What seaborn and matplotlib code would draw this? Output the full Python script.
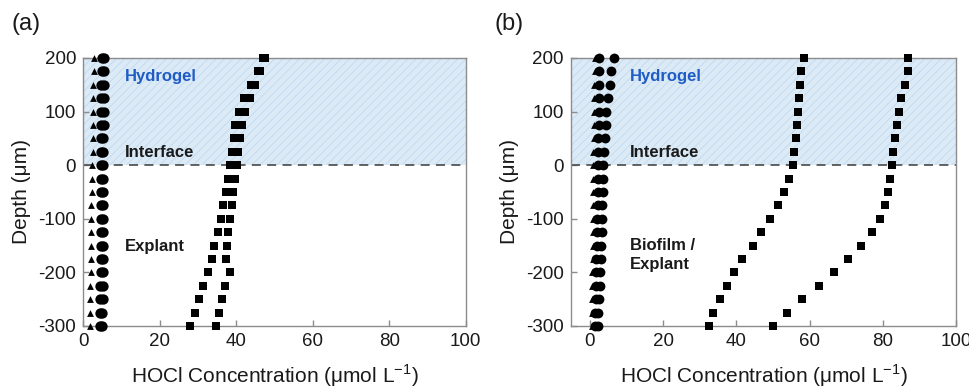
import numpy as np
import pandas as pd
import matplotlib
matplotlib.use("Agg")
import matplotlib.pyplot as plt
import seaborn as sns

# Depth profile (um), one reading every 25 um
depth = [200, 175, 150, 125, 100, 75, 50, 25, 0, -25, -50, -75, -100,
         -125, -150, -175, -200, -225, -250, -275, -300]

# Panel (a): hydrogel over explant
tri_a = [2.9, 2.8, 2.7, 2.7, 2.6, 2.6, 2.5, 2.5, 2.4, 2.3, 2.3, 2.2, 2.2,
         2.1, 2.1, 2.0, 2.0, 1.9, 1.9, 1.8, 1.7]
circ_a1 = [4.9, 4.9, 4.8, 4.8, 4.8, 4.8, 4.8, 4.7, 4.7, 4.7, 4.7, 4.7, 4.6,
           4.6, 4.6, 4.6, 4.6, 4.5, 4.5, 4.5, 4.5]
circ_a2 = [5.5, 5.5, 5.4, 5.4, 5.4, 5.4, 5.3, 5.3, 5.3, 5.3, 5.3, 5.2, 5.2,
           5.2, 5.2, 5.1, 5.1, 5.1, 5.1, 5.0, 5.0]
sq_a1 = [46.9, 45.6, 44.0, 42.1, 40.7, 39.8, 39.4, 38.8, 38.4, 38.0, 37.3,
         36.6, 36.0, 35.2, 34.3, 33.7, 32.6, 31.4, 30.4, 29.2, 28.0]
sq_a2 = [47.6, 46.2, 44.8, 43.5, 42.3, 41.5, 41.0, 40.5, 40.1, 39.8, 39.3,
         38.9, 38.5, 37.9, 37.7, 37.3, 38.3, 37.1, 36.2, 35.5, 34.8]

# Panel (b): hydrogel over biofilm / explant
tri_b = [1.3, 1.3, 1.2, 1.2, 1.1, 1.1, 1.1, 1.0, 1.0, 1.0, 0.9, 0.9, 0.9,
         0.8, 0.8, 0.8, 0.7, 0.7, 0.6, 0.6, 0.5]
circ_b1 = [2.6, 2.6, 2.5, 2.5, 2.4, 2.4, 2.3, 2.3, 2.2, 2.2, 2.1, 2.1, 2.0,
           2.0, 1.9, 1.8, 1.8, 1.7, 1.6, 1.5, 1.4]
circ_b2 = [6.6, 5.9, 5.5, 4.9, 4.5, 4.3, 4.1, 3.9, 3.7, 3.6, 3.5, 3.4, 3.3,
           3.2, 3.1, 3.0, 2.8, 2.7, 2.5, 2.3, 2.1]
sq_b1 = [58.4, 57.6, 57.4, 57.1, 56.9, 56.6, 56.3, 55.8, 55.3, 54.4, 53.1,
         51.2, 49.2, 46.8, 44.4, 41.6, 39.3, 37.3, 35.4, 33.7, 32.4]
sq_b2 = [86.9, 86.9, 86.0, 85.0, 84.3, 83.7, 83.2, 82.7, 82.3, 81.8, 81.3,
         80.5, 79.1, 76.9, 74.0, 70.5, 66.5, 62.4, 58.0, 53.8, 50.1]

x_ticks = [0, 20, 40, 60, 80, 100]
y_ticks = [-300, -200, -100, 0, 100, 200]

sns.set_theme(style="ticks")
plt.rcParams["font.family"] = ["Liberation Sans", "DejaVu Sans"]
plt.rcParams["hatch.linewidth"] = 0.5
plt.rcParams["axes.unicode_minus"] = False

spine_color = "#8c8c8c"
hydrogel_blue = "#1f5cc4"


def draw_panel(ax, series, xlim, label, label_x, region_text):
    # Hydrogel layer: shaded band with faint diagonal hatch
    ax.axhspan(0, 200, facecolor="#dceaf6", edgecolor="#b9d7f2",
               hatch="////", linewidth=0, zorder=0)
    ax.axhline(0, color="#555555", linestyle=(0, (5, 3.5)), linewidth=1.3,
               zorder=1)

    for values, marker, size in series:
        df = pd.DataFrame({"conc": values, "depth": depth})
        sns.scatterplot(data=df, x="conc", y="depth", marker=marker, s=size,
                        color="black", linewidth=0, ax=ax, zorder=3,
                        clip_on=False)

    ax.set_xlim(*xlim)
    ax.set_ylim(-300, 200)
    ax.set_xticks(x_ticks)
    ax.set_yticks(y_ticks)
    ax.tick_params(direction="in", length=4, width=1, color=spine_color,
                   labelsize=13.5, labelcolor="#1a1a1a", pad=5)
    for sp in ax.spines.values():
        sp.set_color(spine_color)
        sp.set_linewidth(1.0)

    ax.set_xlabel("HOCl Concentration (\u03bcmol L$^{\\mathregular{-1}}$)",
                  fontsize=15, labelpad=9, color="#1a1a1a")
    ax.set_ylabel("Depth (\u03bcm)", fontsize=15, labelpad=5,
                  color="#1a1a1a")

    ax.text(11, 166, "Hydrogel", color=hydrogel_blue, fontsize=12,
            fontweight="bold", va="center")
    ax.text(11, 23, "Interface", color="#1a1a1a", fontsize=12,
            fontweight="bold", va="center")
    ax.text(11, region_text[1], region_text[0], color="#1a1a1a", fontsize=12,
            fontweight="bold", va="center", linespacing=1.3)

    ax.text(label_x, 1.125, label, transform=ax.transAxes, fontsize=17,
            color="#1a1a1a", va="center", ha="left")


fig = plt.figure(figsize=(9.69, 3.89), dpi=100)

ax_a = fig.add_axes([0.0857, 0.162, 0.395, 0.689])
ax_b = fig.add_axes([0.589, 0.162, 0.398, 0.689])

draw_panel(ax_a,
           [(tri_a, "^", 24), (circ_a1, "o", 55), (circ_a2, "o", 55),
            (sq_a1, "s", 30), (sq_a2, "s", 30)],
           (0, 100), "(a)", -0.188, ("Explant", -152))
draw_panel(ax_b,
           [(tri_b, "^", 24), (circ_b1, "o", 50), (circ_b2, "o", 50),
            (sq_b1, "s", 30), (sq_b2, "s", 30)],
           (-5.2, 100), "(b)", -0.197, ("Biofilm /\nExplant", -168))

fig.savefig("out.png", dpi=100)
